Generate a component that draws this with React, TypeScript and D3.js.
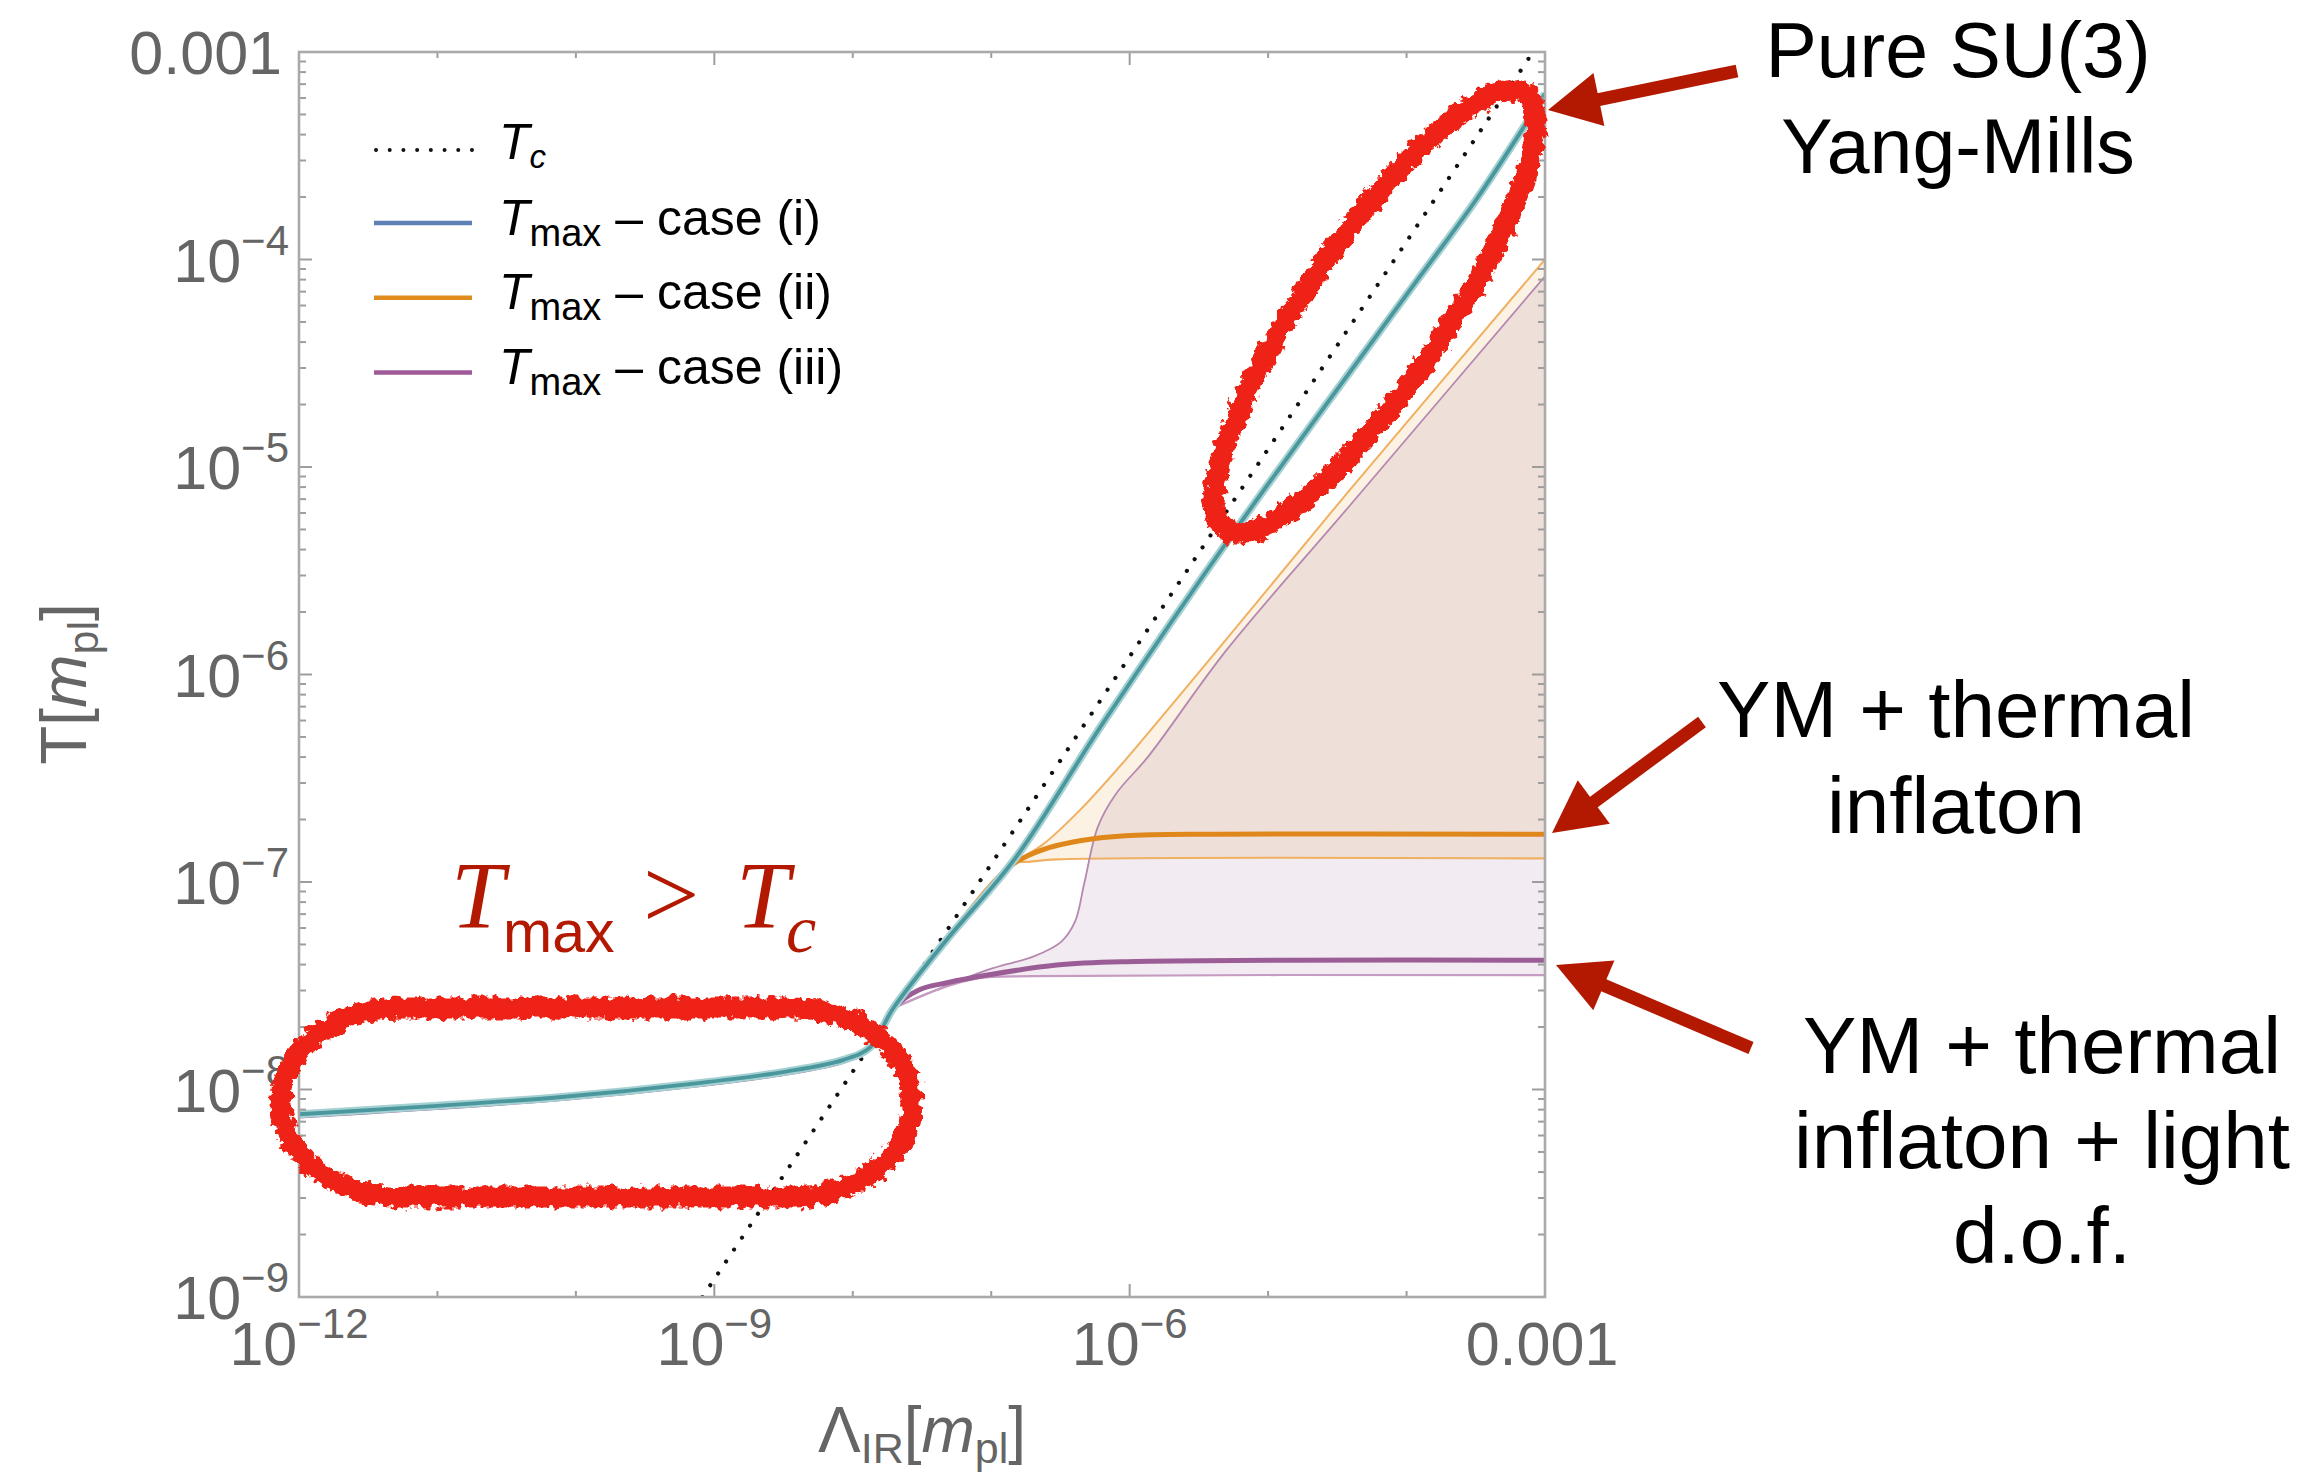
import * as d3 from "d3";

// values: Λ_IR and T, both in units of m_pl
const tcLambda = [8.2e-10, 1e-6, 1e-3];
const tcTemp = [1e-9, 1.22e-6, 1.22e-3];

const case1Lambda = [1e-12, 8.7e-12, 7.9e-11, 7.4e-10, 3.3e-9, 8.6e-9, 1.34e-8, 1.95e-8, 4.75e-8, 1.49e-7, 6.6e-7, 5.8e-6, 1.22e-4, 3.18e-4, 1e-3];
const case1Temp = [7.6e-9, 8.3e-9, 9.2e-9, 1.07e-8, 1.22e-8, 1.39e-8, 1.6e-8, 2.45e-8, 5.25e-8, 1.3e-7, 6.0e-7, 4.97e-6, 8.1e-5, 1.94e-4, 6.3e-4];

const case2Lambda = [4.75e-8, 1.12e-7, 1.55e-7, 2.34e-7, 4.37e-7, 9.3e-7, 4.3e-6, 1e-3];
const case2Temp = [5.25e-8, 1.05e-7, 1.26e-7, 1.43e-7, 1.58e-7, 1.67e-7, 1.7e-7, 1.7e-7];
const case2UpLambda = [1.48e-7, 2.34e-7, 4.37e-7, 9.3e-7, 2.0e-6, 4.3e-6, 3.8e-5, 1e-3];
const case2UpTemp = [1.26e-7, 1.51e-7, 2.22e-7, 3.87e-7, 7.1e-7, 1.31e-6, 7.6e-6, 1e-4];
const case2LoLambda = [1.48e-7, 1.74e-7, 2.97e-7, 1e-3];
const case2LoTemp = [1.26e-7, 1.25e-7, 1.285e-7, 1.3e-7];

const case3Lambda = [1e-12, 7.9e-11, 7.4e-10, 3.3e-9, 8.6e-9, 1.34e-8, 2.0e-8, 3.0e-8, 4.8e-8, 9.4e-8, 2.97e-7, 9.3e-7, 1e-3];
const case3Temp = [7.45e-9, 9.05e-9, 1.05e-8, 1.2e-8, 1.37e-8, 1.58e-8, 2.48e-8, 3.02e-8, 3.27e-8, 3.56e-8, 3.98e-8, 4.13e-8, 4.2e-8];
const case3UpLambda = [2.0e-8, 9.4e-8, 2.03e-7, 3.2e-7, 4.03e-7, 4.7e-7, 5.9e-7, 8.0e-7, 1.36e-6, 5.0e-6, 3.8e-5, 1e-3];
const case3UpTemp = [2.48e-8, 3.77e-8, 4.38e-8, 5.15e-8, 6.44e-8, 9.86e-8, 1.85e-7, 2.67e-7, 4.02e-7, 1.31e-6, 6.4e-6, 8.3e-5];
const case3LoLambda = [2.0e-8, 4.4e-8, 8.1e-8, 2.0e-7, 1e-3];
const case3LoTemp = [2.48e-8, 3.08e-8, 3.44e-8, 3.52e-8, 3.56e-8];

const xTickLabels = [1e-12, 1e-9, 1e-6, 1e-3];
const yTickLabels = [1e-9, 1e-8, 1e-7, 1e-6, 1e-5, 1e-4, 1e-3];
const legendCases = ["(i)", "(ii)", "(iii)"];
const legendColors = ["#5e81b5", "#e08c1f", "#a05a9a"];

const labelPure = ["Pure SU(3)", "Yang-Mills"];
const labelInflaton = ["YM + thermal", "inflaton"];
const labelLight = ["YM + thermal", "inflaton + light", "d.o.f."];

const SANS = "'Liberation Sans', Arial, Helvetica, sans-serif";
const SERIF = "'Liberation Serif', 'Times New Roman', serif";
const GREY = "#656565";
const DARKRED = "#b31800";
const RED = "#ee2412";

function zip(a: number[], b: number[]) {
    return a.map((v, i) => [v, b[i]]);
}

function Arrow({ tail, tip }: { tail: number[]; tip: number[] }) {
    const dx = tip[0] - tail[0],
        dy = tip[1] - tail[1];
    const len = Math.hypot(dx, dy);
    const ux = dx / len,
        uy = dy / len;
    const nx = -uy,
        ny = ux;
    const headLen = 52,
        half = 27;
    const bx = tip[0] - ux * headLen,
        by = tip[1] - uy * headLen;
    return (
        <g fill={DARKRED} stroke="none">
            <line x1={tail[0]} y1={tail[1]} x2={bx + ux * 4} y2={by + uy * 4} stroke={DARKRED} strokeWidth={13} />
            <polygon points={`${tip[0]},${tip[1]} ${bx + nx * half},${by + ny * half} ${bx - nx * half},${by - ny * half}`} />
        </g>
    );
}

function tickLabel(v: number) {
    const e = Math.round(Math.log10(v));
    if (e === -3) return { base: "0.001", sup: "" };
    return { base: "10", sup: "\u2212" + Math.abs(e) };
}

export default function App() {
    const width = 2311,
        height = 1478;
    const left = 299,
        right = 1545,
        top = 52,
        bottom = 1297;

    const x = d3.scaleLog().domain([1e-12, 1e-3]).range([left, right]);
    const y = d3.scaleLog().domain([1e-9, 1e-3]).range([bottom, top]);

    const line = d3
        .line<number[]>()
        .x((d) => x(d[0]))
        .y((d) => y(d[1]))
        .curve(d3.curveCatmullRom.alpha(0.5));

    const band = (up: number[][], lo: number[][]) => {
        const a = line(up) as string;
        const b = line([...lo].reverse()) as string;
        return a + "L" + b.slice(1) + "Z";
    };

    const tc = zip(tcLambda, tcTemp);
    const c1 = zip(case1Lambda, case1Temp);
    const c2 = zip(case2Lambda, case2Temp);
    const c2up = zip(case2UpLambda, case2UpTemp);
    const c2lo = zip(case2LoLambda, case2LoTemp);
    const c3 = zip(case3Lambda, case3Temp);
    const c3up = zip(case3UpLambda, case3UpTemp);
    const c3lo = zip(case3LoLambda, case3LoTemp);

    // tick positions
    const xDecades = d3.range(-12, -2).map((e) => Math.pow(10, e));
    const yMinor: { v: number; major: boolean }[] = [];
    for (let e = -9; e <= -4; e++) {
        for (let k = 1; k <= 9; k++) yMinor.push({ v: k * Math.pow(10, e), major: k === 1 });
    }
    yMinor.push({ v: 1e-3, major: true });

    return (
        <svg
            width={width}
            height={height}
            style={{ position: "absolute", left: 0, top: 0, background: "#fff" }}
        >
            <defs>
                <clipPath id="plot">
                    <rect x={left} y={top} width={right - left} height={bottom - top} />
                </clipPath>
                <filter id="rough" filterUnits="userSpaceOnUse" x={0} y={0} width={width} height={height}>
                    <feTurbulence type="fractalNoise" baseFrequency="0.13" numOctaves={3} seed={4} result="noise" />
                    <feDisplacementMap in="SourceGraphic" in2="noise" scale={13} xChannelSelector="R" yChannelSelector="G" />
                </filter>
            </defs>

            {/* plot content */}
            <g clipPath="url(#plot)">
                <path d={band(c2up, c2lo)} fill="#e19c24" fillOpacity={0.13} />
                <path d={band(c3up, c3lo)} fill="#9b5d96" fillOpacity={0.12} />

                <path d={line(tc) as string} fill="none" stroke="#111" strokeWidth={4.2} strokeDasharray="0.01 14.3" strokeLinecap="round" />

                <path d={line(c2up) as string} fill="none" stroke="#f0b062" strokeWidth={2} />
                <path d={line(c2lo) as string} fill="none" stroke="#f0b062" strokeWidth={2.2} />
                <path d={line(c3up) as string} fill="none" stroke="#b588b0" strokeWidth={1.8} />
                <path d={line(c3lo) as string} fill="none" stroke="#c69bc2" strokeWidth={2.2} />

                <path d={line(c3) as string} fill="none" stroke="#9b5d96" strokeWidth={5} />
                <path d={line(c2) as string} fill="none" stroke="#e0871c" strokeWidth={5} />

                <path d={line(c1) as string} fill="none" stroke="#a6d1d3" strokeWidth={8} />
                <path d={line(c1) as string} fill="none" stroke="#4a979d" strokeWidth={3.8} />
            </g>

            {/* frame and ticks */}
            <g stroke="#9d9d9d" strokeWidth={2}>
                {xDecades.map((v) => {
                    const len = xTickLabels.includes(v) ? 13 : 6;
                    return (
                        <g key={"xt" + v}>
                            <line x1={x(v)} x2={x(v)} y1={bottom} y2={bottom - len} />
                            <line x1={x(v)} x2={x(v)} y1={top} y2={top + len} />
                        </g>
                    );
                })}
                {yMinor.map(({ v, major }) => {
                    const len = major ? 13 : 7;
                    return (
                        <g key={"yt" + v}>
                            <line x1={left} x2={left + len} y1={y(v)} y2={y(v)} />
                            <line x1={right} x2={right - len} y1={y(v)} y2={y(v)} />
                        </g>
                    );
                })}
            </g>
            <rect x={left} y={top} width={right - left} height={bottom - top} fill="none" stroke="#aaaaaa" strokeWidth={2.6} />

            {/* tick labels */}
            <g fill={GREY} fontFamily={SANS}>
                {yTickLabels.map((v) => {
                    const t = tickLabel(v);
                    return (
                        <text key={"yl" + v} x={t.sup ? left - 10 : left - 17} y={y(v) + 22} textAnchor="end" fontSize={61}>
                            {t.base}
                            {t.sup && (
                                <tspan fontSize={42} dy={-27}>
                                    {t.sup}
                                </tspan>
                            )}
                        </text>
                    );
                })}
                {xTickLabels.map((v) => {
                    const t = tickLabel(v);
                    return (
                        <text key={"xl" + v} x={x(v) + (t.sup ? 0 : -3)} y={bottom + 68} textAnchor="middle" fontSize={61}>
                            {t.base}
                            {t.sup && (
                                <tspan fontSize={42} dy={-27}>
                                    {t.sup}
                                </tspan>
                            )}
                        </text>
                    );
                })}
            </g>

            {/* axis titles */}
            <text x={(left + right) / 2} y={1452} textAnchor="middle" fontFamily={SANS} fontSize={64} fill={GREY}>
                Λ
                <tspan fontSize={43} dy={11}>IR</tspan>
                <tspan dy={-11}>[</tspan>
                <tspan fontStyle="italic">m</tspan>
                <tspan fontSize={43} dy={11}>pl</tspan>
                <tspan dy={-11}>]</tspan>
            </text>
            <text transform="translate(86,684) rotate(-90)" textAnchor="middle" fontFamily={SANS} fontSize={64} fill={GREY}>
                T[
                <tspan fontStyle="italic">m</tspan>
                <tspan fontSize={43} dy={12}>pl</tspan>
                <tspan dy={-12}>]</tspan>
            </text>

            {/* legend */}
            <g fontFamily={SANS} fill="#000">
                <line x1={376} x2={472} y1={150} y2={150} stroke="#111" strokeWidth={4} strokeDasharray="0.01 13.7" strokeLinecap="round" />
                <text x={499} y={159} fontSize={50}>
                    <tspan fontStyle="italic">T</tspan>
                    <tspan fontStyle="italic" fontSize={33} dy={9}>c</tspan>
                </text>
                {legendCases.map((c, i) => {
                    const ly = 223 + i * 74.8;
                    return (
                        <g key={c}>
                            <line x1={374} x2={472} y1={ly} y2={ly} stroke={legendColors[i]} strokeWidth={4.5} />
                            <text x={499} y={ly + 11.5} fontSize={50}>
                                <tspan fontStyle="italic">T</tspan>
                                <tspan fontSize={38} dy={11}>max</tspan>
                                <tspan dy={-11}>{" \u2013 case " + c}</tspan>
                            </text>
                        </g>
                    );
                })}
            </g>

            {/* hand-drawn annotations */}
            <g filter="url(#rough)" fill="none" stroke={RED} strokeWidth={21}>
                <ellipse cx={1375} cy={312} rx={265} ry={70} transform="rotate(-55.5 1375 312)" />
                <rect x={281} y={1008} width={631} height={189} rx={120} ry={94} />
            </g>

            <text fill={DARKRED}>
                <tspan x={451} y={928} fontFamily={SERIF} fontStyle="italic" fontSize={96}>T</tspan>
                <tspan x={503} y={952} fontFamily={SANS} fontSize={59}>max</tspan>
                <tspan x={643} y={928} fontFamily={SERIF} fontSize={100}>&gt;</tspan>
                <tspan x={736} y={928} fontFamily={SERIF} fontStyle="italic" fontSize={96}>T</tspan>
                <tspan x={786} y={952} fontFamily={SERIF} fontStyle="italic" fontSize={68}>c</tspan>
            </text>

            <Arrow tail={[1737, 71]} tip={[1548, 110]} />
            <Arrow tail={[1702, 722]} tip={[1552, 833]} />
            <Arrow tail={[1751, 1048]} tip={[1556, 965]} />

            <g fontFamily={SANS} fill="#000" textAnchor="middle">
                {labelPure.map((s, i) => (
                    <text key={"p" + i} x={1958} y={77 + i * 96} fontSize={77}>{s}</text>
                ))}
                {labelInflaton.map((s, i) => (
                    <text key={"t" + i} x={1956} y={737 + i * 95.6} fontSize={80}>{s}</text>
                ))}
                {labelLight.map((s, i) => (
                    <text key={"l" + i} x={2042} y={1073 + i * 95} fontSize={80}>{s}</text>
                ))}
            </g>
        </svg>
    );
}
